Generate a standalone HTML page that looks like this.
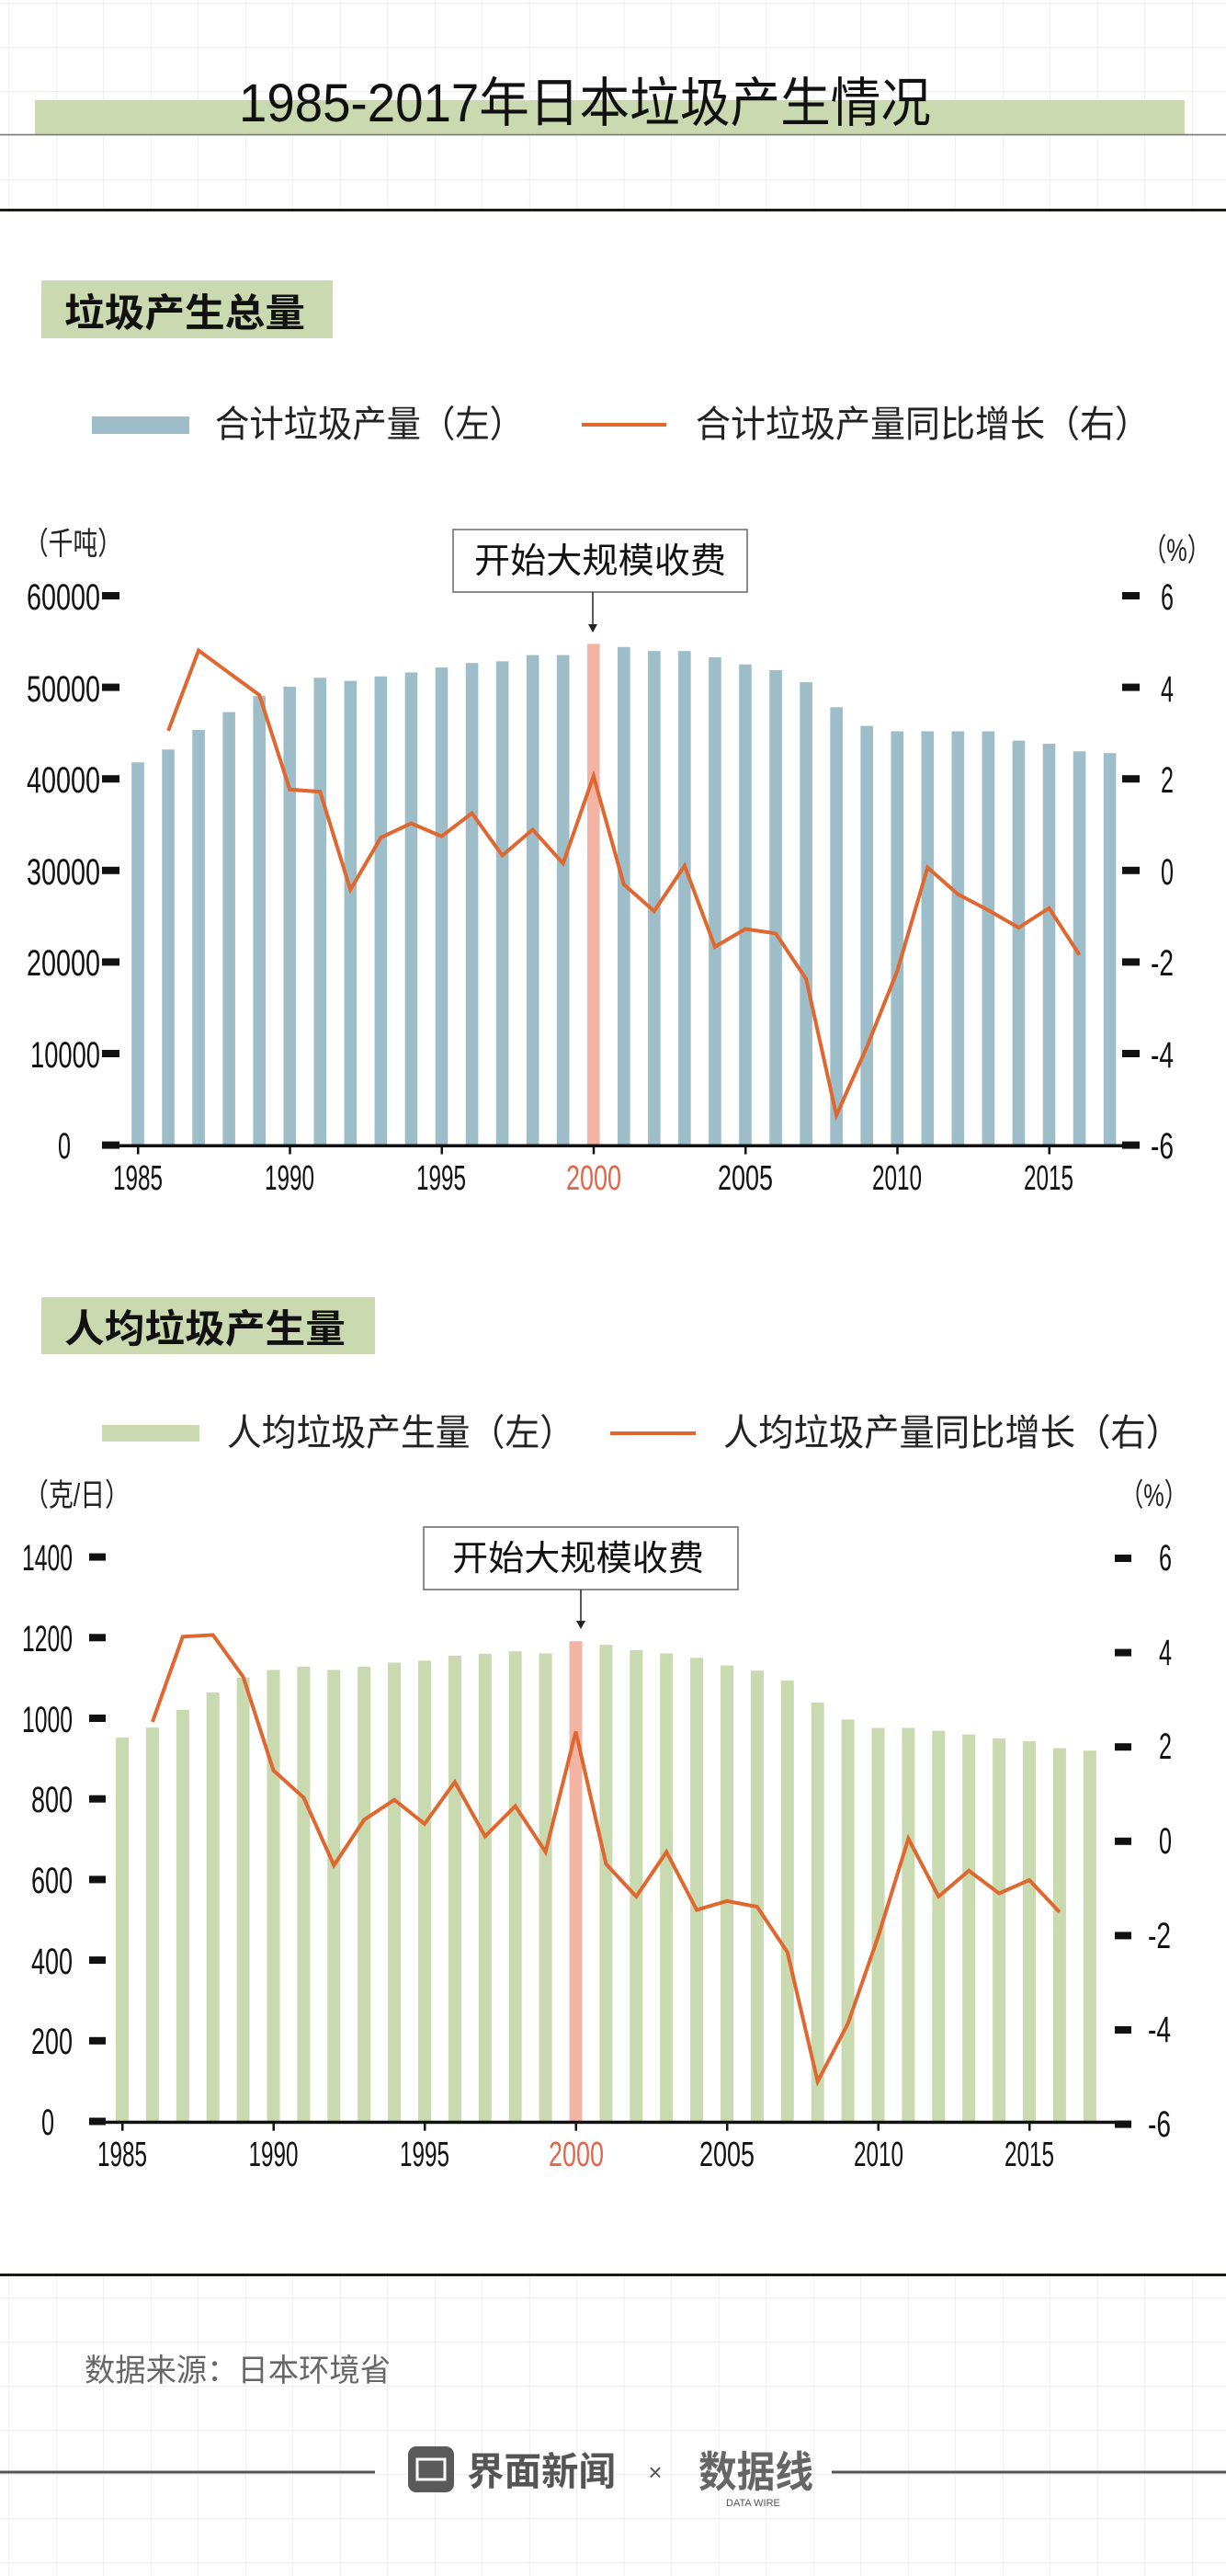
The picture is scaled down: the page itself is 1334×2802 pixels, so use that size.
<!DOCTYPE html>
<html><head><meta charset="utf-8">
<style>
html,body{margin:0;padding:0;background:#fff;}
svg{display:block;}
text{font-family:"Liberation Sans","Noto Sans CJK SC",sans-serif;}
</style></head>
<body>
<svg id="s" width="1334" height="2802" viewBox="0 0 1334 2802" xmlns="http://www.w3.org/2000/svg">
<defs>
<pattern id="grid" x="10" y="4" width="51.5" height="48" patternUnits="userSpaceOnUse">
<path d="M51.5 0V48M0 48H51.5" stroke="#e6e6e6" stroke-width="1.2" fill="none"/>
</pattern>
</defs>
<rect x="0" y="0" width="1334" height="229" fill="url(#grid)"/>
<rect x="0" y="2476" width="1334" height="326" fill="url(#grid)"/>
<rect x="38" y="109" width="1251" height="37" fill="#cad9b0"/>
<line x1="0" y1="146.5" x2="1334" y2="146.5" stroke="#777" stroke-width="1.5"/>
<text x="260" y="132" font-size="58" textLength="753" lengthAdjust="spacingAndGlyphs" fill="#111">1985-2017年日本垃圾产生情况</text>
<rect x="0" y="227" width="1334" height="3" fill="#231815"/>

<!-- section 1 -->
<rect x="45" y="305" width="317" height="63" fill="#cad9b0"/>
<text x="70" y="355" font-size="42" font-weight="bold" textLength="262" lengthAdjust="spacingAndGlyphs" fill="#111">垃圾产生总量</text>
<rect x="100" y="453" width="106" height="19" fill="#9dbec8"/>
<text x="234" y="475" font-size="40" textLength="336" lengthAdjust="spacingAndGlyphs" fill="#222">合计垃圾产量（左）</text>
<rect x="633" y="460" width="92" height="4" fill="#e0672f"/>
<text x="757" y="475" font-size="40" textLength="494" lengthAdjust="spacingAndGlyphs" fill="#222">合计垃圾产量同比增长（右）</text>

<text x="26" y="603" font-size="34" textLength="107" lengthAdjust="spacingAndGlyphs" fill="#222">（千吨）</text>
<text x="1244" y="610" font-size="34" textLength="73" lengthAdjust="spacingAndGlyphs" fill="#222">（%）</text>
<rect x="493" y="576" width="320" height="68" fill="#fff" stroke="#666" stroke-width="1.5"/>
<text x="516" y="623" font-size="38" textLength="274" lengthAdjust="spacingAndGlyphs" fill="#111">开始大规模收费</text>
<line x1="645" y1="644" x2="645" y2="680" stroke="#222" stroke-width="1.5"/>
<polygon points="640,679 650,679 645,688" fill="#222"/>
<g id="c1"></g>
<g font-size="40" fill="#111" text-anchor="end">
<text x="109" y="663" textLength="80" lengthAdjust="spacingAndGlyphs">60000</text>
<text x="109" y="763" textLength="80" lengthAdjust="spacingAndGlyphs">50000</text>
<text x="109" y="862" textLength="80" lengthAdjust="spacingAndGlyphs">40000</text>
<text x="109" y="962" textLength="80" lengthAdjust="spacingAndGlyphs">30000</text>
<text x="109" y="1061" textLength="80" lengthAdjust="spacingAndGlyphs">20000</text>
<text x="109" y="1161" textLength="76" lengthAdjust="spacingAndGlyphs">10000</text>
<text x="77" y="1260" textLength="14" lengthAdjust="spacingAndGlyphs">0</text>
</g>
<g font-size="40" fill="#111" text-anchor="start">
<text x="1263" y="663" textLength="14" lengthAdjust="spacingAndGlyphs">6</text>
<text x="1263" y="763" textLength="14" lengthAdjust="spacingAndGlyphs">4</text>
<text x="1263" y="862" textLength="14" lengthAdjust="spacingAndGlyphs">2</text>
<text x="1263" y="962" textLength="14" lengthAdjust="spacingAndGlyphs">0</text>
<text x="1252" y="1061" textLength="25" lengthAdjust="spacingAndGlyphs">-2</text>
<text x="1252" y="1161" textLength="25" lengthAdjust="spacingAndGlyphs">-4</text>
<text x="1252" y="1260" textLength="25" lengthAdjust="spacingAndGlyphs">-6</text>
</g>
<g font-size="38" fill="#111" text-anchor="middle">
<text x="150" y="1294" textLength="54" lengthAdjust="spacingAndGlyphs">1985</text>
<text x="315" y="1294" textLength="54" lengthAdjust="spacingAndGlyphs">1990</text>
<text x="480" y="1294" textLength="54" lengthAdjust="spacingAndGlyphs">1995</text>
<text x="646" y="1294" textLength="60" lengthAdjust="spacingAndGlyphs" fill="#e0674a">2000</text>
<text x="811" y="1294" textLength="60" lengthAdjust="spacingAndGlyphs">2005</text>
<text x="976" y="1294" textLength="54" lengthAdjust="spacingAndGlyphs">2010</text>
<text x="1141" y="1294" textLength="54" lengthAdjust="spacingAndGlyphs">2015</text>
</g>

<!-- section 2 -->
<rect x="45" y="1411" width="363" height="62" fill="#cad9b0"/>
<text x="70" y="1460" font-size="42" font-weight="bold" textLength="306" lengthAdjust="spacingAndGlyphs" fill="#111">人均垃圾产生量</text>
<rect x="111" y="1550" width="106" height="18" fill="#c9d9b0"/>
<text x="247" y="1572" font-size="40" textLength="378" lengthAdjust="spacingAndGlyphs" fill="#222">人均垃圾产生量（左）</text>
<rect x="664" y="1557" width="93" height="4" fill="#e0672f"/>
<text x="787" y="1572" font-size="40" textLength="498" lengthAdjust="spacingAndGlyphs" fill="#222">人均垃圾产量同比增长（右）</text>

<text x="26" y="1638" font-size="34" textLength="115" lengthAdjust="spacingAndGlyphs" fill="#222">（克/日）</text>
<text x="1219" y="1638" font-size="34" textLength="73" lengthAdjust="spacingAndGlyphs" fill="#222">（%）</text>
<rect x="461" y="1661" width="342" height="68" fill="#fff" stroke="#666" stroke-width="1.5"/>
<text x="492" y="1708" font-size="38" textLength="274" lengthAdjust="spacingAndGlyphs" fill="#111">开始大规模收费</text>
<line x1="632" y1="1729" x2="632" y2="1764" stroke="#222" stroke-width="1.5"/>
<polygon points="627,1763 637,1763 632,1772" fill="#222"/>
<g id="c2"></g>
<g font-size="40" fill="#111" text-anchor="end">
<text x="79" y="1708" textLength="55" lengthAdjust="spacingAndGlyphs">1400</text>
<text x="79" y="1796" textLength="55" lengthAdjust="spacingAndGlyphs">1200</text>
<text x="79" y="1884" textLength="55" lengthAdjust="spacingAndGlyphs">1000</text>
<text x="79" y="1971" textLength="45" lengthAdjust="spacingAndGlyphs">800</text>
<text x="79" y="2059" textLength="45" lengthAdjust="spacingAndGlyphs">600</text>
<text x="79" y="2147" textLength="45" lengthAdjust="spacingAndGlyphs">400</text>
<text x="79" y="2234" textLength="45" lengthAdjust="spacingAndGlyphs">200</text>
<text x="59" y="2322" textLength="14" lengthAdjust="spacingAndGlyphs">0</text>
</g>
<g font-size="40" fill="#111" text-anchor="start">
<text x="1261" y="1708" textLength="14" lengthAdjust="spacingAndGlyphs">6</text>
<text x="1261" y="1811" textLength="14" lengthAdjust="spacingAndGlyphs">4</text>
<text x="1261" y="1913" textLength="14" lengthAdjust="spacingAndGlyphs">2</text>
<text x="1261" y="2016" textLength="14" lengthAdjust="spacingAndGlyphs">0</text>
<text x="1249" y="2119" textLength="25" lengthAdjust="spacingAndGlyphs">-2</text>
<text x="1249" y="2221" textLength="25" lengthAdjust="spacingAndGlyphs">-4</text>
<text x="1249" y="2324" textLength="25" lengthAdjust="spacingAndGlyphs">-6</text>
</g>
<g font-size="38" fill="#111" text-anchor="middle">
<text x="133" y="2356" textLength="54" lengthAdjust="spacingAndGlyphs">1985</text>
<text x="297.5" y="2356" textLength="54" lengthAdjust="spacingAndGlyphs">1990</text>
<text x="462" y="2356" textLength="54" lengthAdjust="spacingAndGlyphs">1995</text>
<text x="627" y="2356" textLength="60" lengthAdjust="spacingAndGlyphs" fill="#e0674a">2000</text>
<text x="791" y="2356" textLength="60" lengthAdjust="spacingAndGlyphs">2005</text>
<text x="956" y="2356" textLength="54" lengthAdjust="spacingAndGlyphs">2010</text>
<text x="1120" y="2356" textLength="54" lengthAdjust="spacingAndGlyphs">2015</text>
</g>

<!-- footer -->
<rect x="0" y="2473" width="1334" height="3" fill="#231815"/>
<text x="92" y="2590" font-size="34" textLength="333" lengthAdjust="spacingAndGlyphs" fill="#666">数据来源：日本环境省</text>
<line x1="0" y1="2689" x2="408" y2="2689" stroke="#555" stroke-width="3"/>
<line x1="905" y1="2689" x2="1334" y2="2689" stroke="#555" stroke-width="3"/>
<rect x="444" y="2661" width="50" height="50" rx="9" fill="#5a5a5a"/>
<rect x="454" y="2675" width="30" height="22" fill="none" stroke="#fff" stroke-width="3"/>
<text x="508" y="2703" font-size="42" font-weight="bold" textLength="162" lengthAdjust="spacingAndGlyphs" fill="#555">界面新闻</text>
<text x="713" y="2698" font-size="26" text-anchor="middle" fill="#555">×</text>
<text x="760" y="2705" font-size="46" font-weight="bold" textLength="125" lengthAdjust="spacingAndGlyphs" fill="#666">数据线</text>
<text x="790" y="2726" font-size="11" fill="#555">DATA WIRE</text>
</svg>
<script>
(function(){
var NS="http://www.w3.org/2000/svg";
function el(g,n,a){var e=document.createElementNS(NS,n);for(var k in a)e.setAttribute(k,a[k]);g.appendChild(e);return e;}
var g1=document.getElementById('c1');
var v1=[41800,43200,45340,47290,49040,50060,51040,50700,51190,51620,52160,52650,52840,53520,53520,54740,54400,53960,53960,53280,52500,51870,50550,47820,45780,45190,45190,45190,45190,44170,43830,43000,42810];
var base1=1245.5,sc1=597.5/60000;
function x1(i){return 150+33.05*i;}
for(var i=0;i<v1.length;i++){var h=v1[i]*sc1;el(g1,'rect',{x:x1(i)-6.8,y:base1-h,width:13.6,height:h,fill:i==15?'#f4b4a4':'#9dbec8'});}
var l1=[505,325,375,425,637,642,862,745,713,742,690,785,727,803,607,850,910,808,990,950,960,1062,1368,1215,1045,812,872,908,947,903,1008];
var p=[];for(var i=0;i<l1.length;i++)p.push(x1(i+1).toFixed(1)+','+(550+l1[i]/2.063).toFixed(1));
el(g1,'polyline',{points:p.join(' '),fill:'none',stroke:'#e0672f','stroke-width':4});
el(g1,'rect',{x:111,y:base1-1,width:1129,height:3.5,fill:'#111'});
for(var k=0;k<7;k++){el(g1,'rect',{x:x1(k*5)-1,y:base1,width:2.5,height:10,fill:'#111'});}
for(var k=0;k<7;k++){var yy=648+k*99.6;el(g1,'rect',{x:111,y:yy-4,width:19,height:8,fill:'#111'});el(g1,'rect',{x:1221,y:yy-4,width:19,height:8,fill:'#111'});}
var g2=document.getElementById('c2');
var v2=[952,977,1021,1064,1101,1120,1128,1120,1128,1138,1143,1155,1160,1166,1161,1191,1182,1169,1161,1150,1131,1118,1094,1039,997,976,976,969,960,950,943,926,920];
var base2=2307.7,sc2=614.1/1400;
function x2(i){return 133+32.9*i;}
for(var i=0;i<v2.length;i++){var h=v2[i]*sc2;el(g2,'rect',{x:x2(i)-7,y:base2-h,width:14,height:h,fill:i==15?'#f4b4a4':'#c9d9b0'});}
var l2=[563,372,368,462,672,733,885,783,738,792,698,820,752,855,585,882,955,855,985,965,978,1080,1370,1240,1045,825,955,897,948,918,990];
p=[];for(var i=0;i<l2.length;i++)p.push(x2(i+1).toFixed(1)+','+(1600+l2[i]/2.063).toFixed(1));
el(g2,'polyline',{points:p.join(' '),fill:'none',stroke:'#e0672f','stroke-width':4});
el(g2,'rect',{x:97,y:base2-1,width:1134,height:3.5,fill:'#111'});
for(var k=0;k<7;k++){el(g2,'rect',{x:x2(k*5)-1,y:base2,width:2.5,height:10,fill:'#111'});}
for(var k=0;k<8;k++){var yy=1693.6+k*87.7;el(g2,'rect',{x:97,y:yy-4,width:18,height:8,fill:'#111'});}
for(var k=0;k<7;k++){var yy=1695+k*102.6;el(g2,'rect',{x:1213,y:yy-4,width:18,height:8,fill:'#111'});}
})();
</script>
</body></html>
